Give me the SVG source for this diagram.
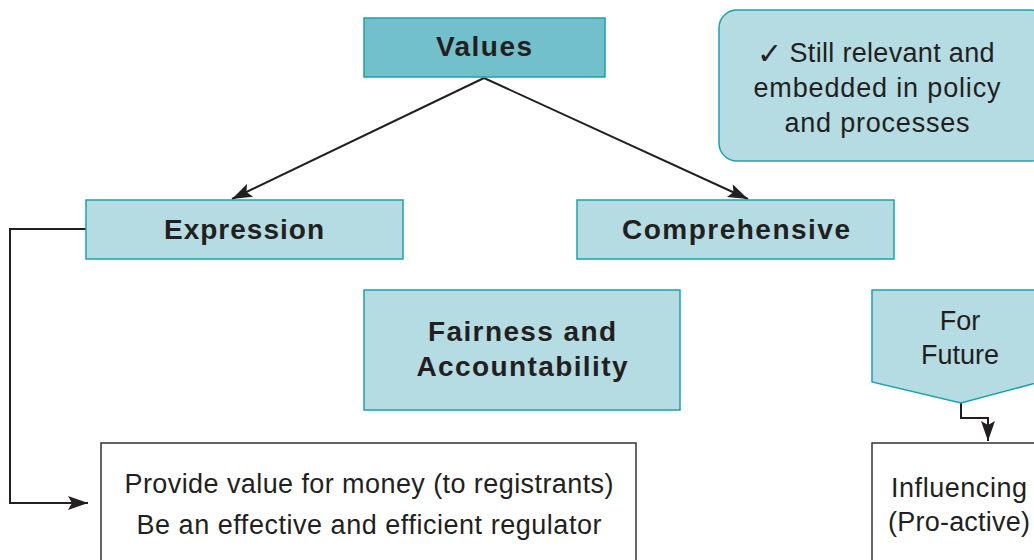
<svg xmlns="http://www.w3.org/2000/svg" width="1034" height="560" viewBox="0 0 1034 560">
<style>
.lb{fill:#b5dce2;stroke:#1aa3ad;stroke-width:1.5}
.dk{fill:#72c0cb;stroke:#1aa3ad;stroke-width:1.5}
.wb{fill:#fff;stroke:#333;stroke-width:1.5}
.b{font-family:"Liberation Sans",Arial,sans-serif;font-weight:bold;font-size:28px;fill:#231f20;text-anchor:middle}
.r{font-family:"Liberation Sans",Arial,sans-serif;font-size:27px;fill:#231f20;text-anchor:middle}
.c{fill:none;stroke:#231f20;stroke-width:2}
</style>
<defs>
<marker id="ah2" viewBox="0 0 20 14" refX="20" refY="7" markerWidth="24" markerHeight="14" markerUnits="userSpaceOnUse" orient="auto"><path d="M0,0 L20,7 L0,14 L4,7 Z" fill="#231f20"/></marker>
</defs>
<g id="connectors">
<path class="c" d="M484,78 L232,199" marker-end="url(#ah2)"/>
<path class="c" d="M484,78 L748,199" marker-end="url(#ah2)"/>
<path class="c" d="M86,229 H10 V503 H88" marker-end="url(#ah2)"/>
<path class="c" d="M961,403 V418 H988 V441" marker-end="url(#ah2)"/>
</g>
<g id="values"><rect class="dk" x="364" y="18" width="241" height="59"/><text class="b" x="484" y="56" textLength="96">Values</text></g>
<g id="still-relevant"><rect class="lb" x="719" y="10" width="330" height="151" rx="18"/>
<text font-family="DejaVu Sans,sans-serif" font-weight="bold" font-size="30" fill="#231f20" x="757" y="64">✓</text>
<text class="r" x="892" y="62" textLength="205">Still relevant and</text>
<text class="r" x="877" y="97" textLength="247">embedded in policy</text>
<text class="r" x="877" y="132" textLength="185">and processes</text></g>
<g id="expression"><rect class="lb" x="86" y="200" width="317" height="59"/><text class="b" x="244" y="239" textLength="160">Expression</text></g>
<g id="comprehensive"><rect class="lb" x="577" y="200" width="317" height="59"/><text class="b" x="736" y="239" textLength="228">Comprehensive</text></g>
<g id="fairness"><rect class="lb" x="364" y="290" width="316" height="120"/>
<text class="b" x="522" y="341" textLength="188">Fairness and</text>
<text class="b" x="522" y="376" textLength="211">Accountability</text></g>
<g id="for-future"><path class="lb" d="M872,290 H1040 V382 L961,403 L872,382 Z"/>
<text class="r" x="960" y="330">For</text>
<text class="r" x="960" y="364" textLength="78">Future</text></g>
<g id="provide"><rect class="wb" x="101" y="443" width="535" height="130"/>
<text class="r" x="369" y="493" textLength="489">Provide value for money (to registrants)</text>
<text class="r" x="369" y="534" textLength="465">Be an effective and efficient regulator</text></g>
<g id="influencing"><rect class="wb" x="872" y="443" width="180" height="130"/>
<text class="r" x="959" y="497" textLength="136">Influencing</text>
<text class="r" x="959" y="531" textLength="142">(Pro-active)</text></g>
</svg>
